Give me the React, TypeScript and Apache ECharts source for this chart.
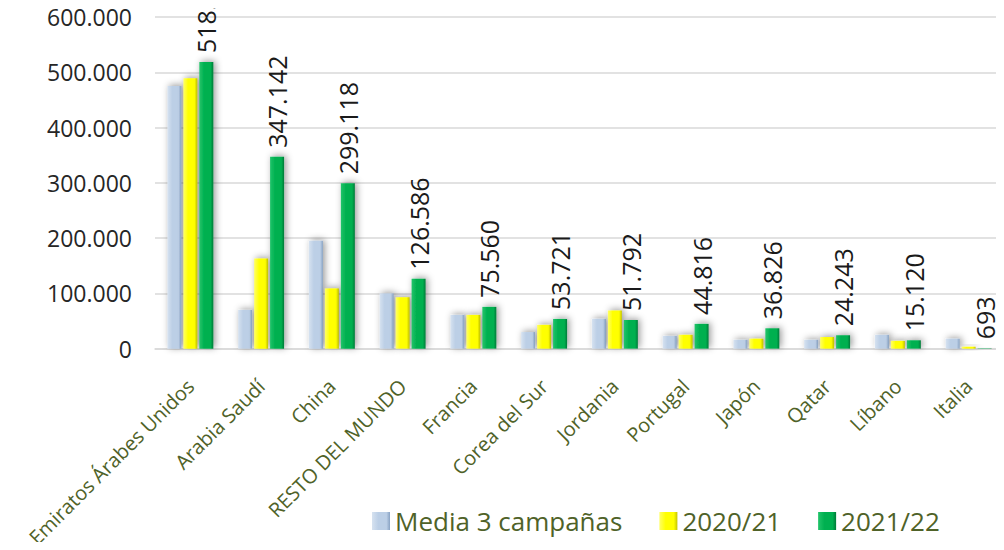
import React, { useEffect, useRef } from "react";
import * as echarts from "echarts";

const categories = [
  "Emiratos Árabes Unidos",
  "Arabia Saudí",
  "China",
  "RESTO DEL MUNDO",
  "Francia",
  "Corea del Sur",
  "Jordania",
  "Portugal",
  "Japón",
  "Qatar",
  "Líbano",
  "Italia",
];
const seriesNames = ["Media 3 campañas", "2020/21", "2021/22"];
const media3 = [475000, 70000, 195000, 100000, 61000, 30000, 54000, 23000, 16000, 16000, 25000, 18000];
const y2020 = [489000, 163000, 109000, 93000, 61000, 43000, 69000, 25000, 18000, 21000, 14000, 3500];
const y2021 = [518500, 347142, 299118, 126586, 75560, 53721, 51792, 44816, 36826, 24243, 15120, 693];
const yTicks = [0, 100000, 200000, 300000, 400000, 500000, 600000];

const FONT = "'Open Sans', 'DejaVu Sans', sans-serif";
const OLIVE = "#4f6228";

const fmt = (v: number) =>
  String(Math.round(v)).replace(/\B(?=(\d{3})+(?!\d))/g, ".");

const grad = (c1: string, c2: string, c3: string) =>
  new echarts.graphic.LinearGradient(0, 0, 1, 0, [
    { offset: 0, color: c1 },
    { offset: 0.35, color: c2 },
    { offset: 0.8, color: c2 },
    { offset: 1, color: c3 },
  ]);

export default function App() {
  const ref = useRef<HTMLDivElement>(null);
  useEffect(() => {
    if (!ref.current) return;
    const chart = echarts.init(ref.current, null, { renderer: "svg" });
    const shadow = {
      shadowColor: "rgba(0,0,0,0.4)",
      shadowBlur: 7,
      shadowOffsetX: 2,
      shadowOffsetY: -1,
    };
    const colors = [
      grad("#d6e2f0", "#bccfe6", "#88a2c3"),
      grad("#ffff66", "#ffff00", "#c4c400"),
      grad("#22c46a", "#00b050", "#007a38"),
    ];
    const datas = [media3, y2020, y2021];
    chart.setOption({
      animation: false,
      grid: { left: 155, top: 17, width: 864, height: 336, containLabel: false },
      legend: {
        data: seriesNames,
        left: 367,
        top: 503,
        itemWidth: 18,
        itemHeight: 18,
        itemGap: 37,
        icon: "rect",
        textStyle: { fontFamily: FONT, fontSize: 26, color: OLIVE },
      },
      xAxis: {
        type: "category",
        data: categories,
        axisTick: { show: false },
        axisLine: { lineStyle: { color: "#d9d9d9", width: 1.5 } },
        axisLabel: {
          rotate: 45,
          interval: 0,
          margin: 34,
          fontFamily: FONT,
          fontSize: 20,
          color: OLIVE,
        },
      },
      yAxis: {
        type: "value",
        min: yTicks[0],
        max: yTicks[yTicks.length - 1],
        interval: 100000,
        axisLine: { show: false },
        axisTick: { show: false },
        splitLine: { lineStyle: { color: "#d9d9d9", width: 1.5 } },
        axisLabel: {
          margin: 23,
          fontFamily: FONT,
          fontSize: 23,
          color: "#262626",
          formatter: (v: number) => fmt(v),
        },
      },
      series: datas.map((d, i) => ({
        name: seriesNames[i],
        type: "bar",
        data: d,
        barWidth: 14,
        barGap: "14%",
        itemStyle: { color: colors[i], ...shadow },
        label:
          i === 2
            ? {
                show: true,
                position: "top",
                rotate: 90,
                align: "left",
                verticalAlign: "middle",
                distance: 9,
                fontFamily: FONT,
                fontSize: 25,
                color: "#1a1a1a",
                formatter: (p: any) => fmt(p.value),
              }
            : { show: false },
      })),
    });
    return () => chart.dispose();
  }, []);
  return <div ref={ref} style={{ width: 1004, height: 550, margin: -8 }} />;
}
